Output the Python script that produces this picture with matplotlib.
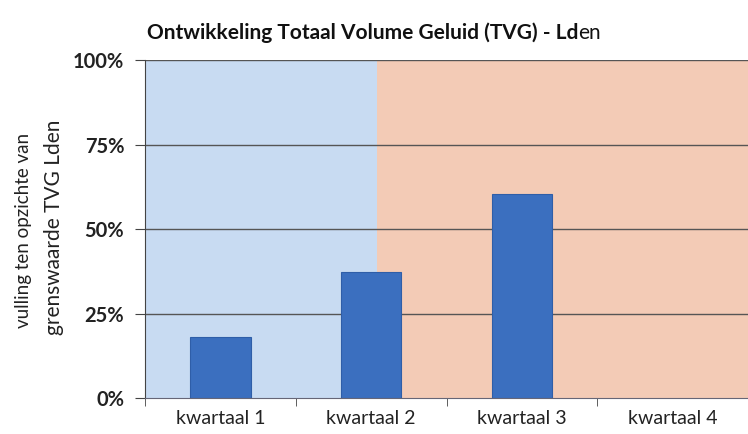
import matplotlib
matplotlib.use("Agg")
import matplotlib.pyplot as plt
from matplotlib.ticker import FuncFormatter

categories = ["kwartaal 1", "kwartaal 2", "kwartaal 3", "kwartaal 4"]
values = [18.1, 37.4, 60.3, None]
yticks = [0, 25, 50, 75, 100]
title_bold = "Ontwikkeling Totaal Volume Geluid (TVG) - Ld"
title_rest = "en"
ylabel_small = "vulling ten opzichte van"
ylabel_big = "grenswaarde TVG Lden"

plt.rcParams['font.family'] = ['Lato', 'DejaVu Sans']

fig = plt.figure(figsize=(7.48, 4.34), dpi=100)
ax = fig.add_axes([145/748, 1-398/434, 1-145/748, (398-60)/434])

x = list(range(len(categories)))
# background regions
ax.axvspan(-0.5, 1.04, color="#c8dbf2", zorder=0, lw=0)
ax.axvspan(1.04, 3.6, color="#f3cbb6", zorder=0, lw=0)

for i, v in enumerate(values):
    if v is not None:
        ax.bar(i, v, width=0.4, color="#3b6fbf", edgecolor="#2f5ea8", lw=0.8, zorder=3)

ax.set_ylim(0, 100)
ax.set_xlim(-0.5, -0.5 + (748-145)/152)
ax.set_yticks(yticks)
ax.yaxis.set_major_formatter(FuncFormatter(lambda v, p: f"{int(v)}%"))
for t in yticks[1:]:
    ax.axhline(t, color="#555555", lw=1.0, zorder=2)

ax.set_xticks(x)
ax.set_xticklabels(categories, fontsize=14)
ax.set_xticks([i + 0.5 for i in range(-1, 4)], minor=True)
ax.tick_params(axis="x", which="major", length=0, pad=9, colors="#222222")
ax.tick_params(axis="x", which="minor", length=6, color="#444444", direction="out")
ax.tick_params(axis="y", length=7, color="#444444", direction="out", labelsize=14.5, pad=8)
for lab in ax.get_yticklabels():
    lab.set_fontweight("bold")
    lab.set_color("#222222")

for s in ["top", "right"]:
    ax.spines[s].set_visible(False)
ax.spines["left"].set_color("#444444")
ax.spines["bottom"].set_color("#666677")
ax.spines["bottom"].set_zorder(4)

t1 = fig.text(147/748, 1-33/434, title_bold, ha="left", va="center", fontsize=15, fontweight="bold", color="#111111")
fig.canvas.draw()
bb = t1.get_window_extent()
fig.text(bb.x1/fig.bbox.width, 1-33/434, title_rest, ha="left", va="center", fontsize=15, color="#111111")

fig.text(24/748, 1-230/434, ylabel_small, rotation=90, ha="center", va="center", fontsize=13.5, color="#222222")
fig.text(54/748, 1-227/434, ylabel_big, rotation=90, ha="center", va="center", fontsize=15, color="#222222")

fig.savefig("out.png", dpi=100)
